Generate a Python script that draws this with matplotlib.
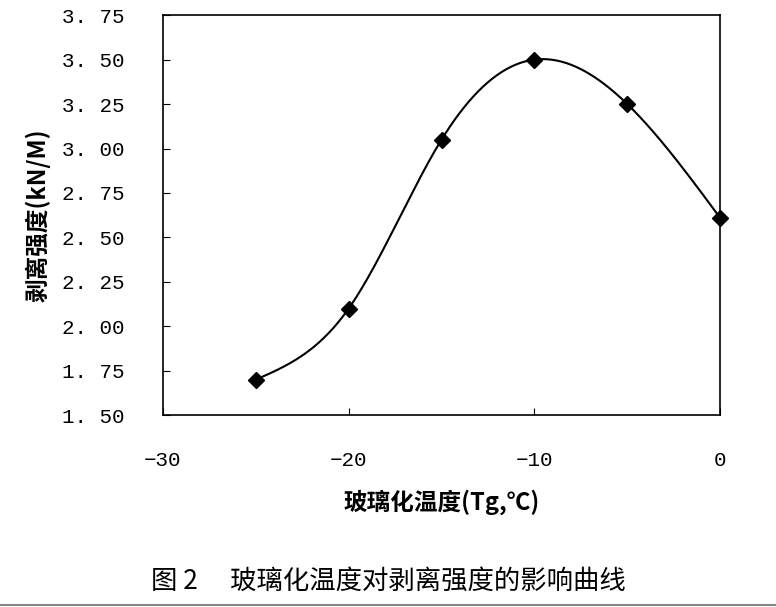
import numpy as np
import matplotlib
matplotlib.use("Agg")
import matplotlib.pyplot as plt

plt.rcParams['font.family'] = ['Noto Sans CJK SC', 'DejaVu Sans']

temps = [-25, -20, -15, -10, -5, 0]
strength = [1.70, 2.10, 3.05, 3.50, 3.25, 2.61]
xticks = [-30, -20, -10, 0]
yticks = [1.50, 1.75, 2.00, 2.25, 2.50, 2.75, 3.00, 3.25, 3.50, 3.75]


def natural_spline(x, y, xs):
    x = np.asarray(x, float); y = np.asarray(y, float)
    n = len(x); h = np.diff(x)
    A = np.zeros((n, n)); b = np.zeros(n)
    A[0, 0] = A[-1, -1] = 1
    for i in range(1, n - 1):
        A[i, i - 1] = h[i - 1]; A[i, i] = 2 * (h[i - 1] + h[i]); A[i, i + 1] = h[i]
        b[i] = 3 * ((y[i + 1] - y[i]) / h[i] - (y[i] - y[i - 1]) / h[i - 1])
    c = np.linalg.solve(A, b)
    out = []
    for t in xs:
        i = min(max(np.searchsorted(x, t) - 1, 0), n - 2)
        d = t - x[i]
        bb = (y[i + 1] - y[i]) / h[i] - h[i] * (2 * c[i] + c[i + 1]) / 3
        dd = (c[i + 1] - c[i]) / (3 * h[i])
        out.append(y[i] + bb * d + c[i] * d ** 2 + dd * d ** 3)
    return np.array(out)


fig = plt.figure(figsize=(7.76, 6.07), dpi=100)
ax = fig.add_axes([0.210, 0.316, 0.718, 0.659])
xs = np.linspace(temps[0], temps[-1], 300)
ax.plot(xs, natural_spline(temps, strength, xs), color='black', lw=1.5)
ax.plot(temps, strength, linestyle='none', marker='D', ms=8, color='black', clip_on=False)
ax.set_xlim(-30, 0)
ax.set_ylim(1.5, 3.75)
ax.set_xticks(xticks)
ax.set_xticklabels(['\u221230', '\u221220', '\u221210', '0'])
ax.set_yticks(yticks)
ax.set_yticklabels([f'{v:.2f}'.replace('.', '. ') for v in yticks])
mono = ['Liberation Mono', 'DejaVu Sans Mono']
for lab in ax.get_xticklabels() + ax.get_yticklabels():
    lab.set_family(mono)
    lab.set_fontsize(15)
ax.tick_params(axis='y', direction='in', length=5, pad=28)
ax.tick_params(axis='x', direction='in', length=5, pad=26)
for s in ax.spines.values():
    s.set_linewidth(1.2)
ax.set_xlabel('玻璃化温度(Tg,℃)', fontsize=17, labelpad=14, weight='bold')
ax.set_ylabel('剥离强度(kN/M)', fontsize=17, labelpad=8, weight='bold')
fig.text(0.5, 0.03, '图 2　 玻璃化温度对剥离强度的影响曲线', ha='center', fontsize=19)
fig.add_artist(plt.Line2D([0, 1], [0.003, 0.003], color='#888888', lw=1.5))
fig.savefig('out.png', dpi=100)
